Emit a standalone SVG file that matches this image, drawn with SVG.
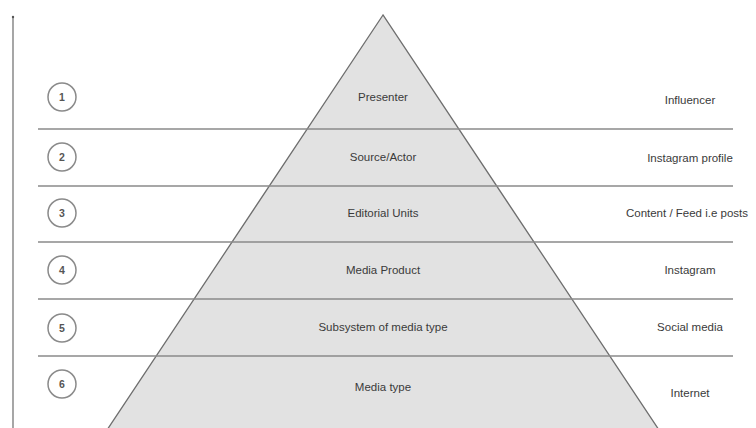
<svg xmlns="http://www.w3.org/2000/svg" width="756" height="428" viewBox="0 0 756 428">
<style>
.sep{stroke:#8a8a8a;stroke-width:1.3}
.tri{fill:#e2e2e2;stroke:#6e6e6e;stroke-width:1.3}
.num circle{fill:#fff;stroke:#8a8a8a;stroke-width:1.5}
text{font-family:"Liberation Sans",Arial,sans-serif;font-size:11.5px;fill:#3a3a3a;text-anchor:middle}
.n{font-size:10.5px;font-weight:bold;fill:#555}
</style>
<rect width="756" height="428" fill="#fff"/>
<g id="axis">
<line x1="13" y1="428" x2="13" y2="17" stroke="#777" stroke-width="1.3"/>
<circle cx="13" cy="17" r="1.2" fill="#555"/>
</g>
<g id="pyramid">
<polygon class="tri" points="383,15 107,430 659,430"/>
</g>
<g id="connectors">
<line class="sep" x1="38" y1="129" x2="733" y2="129"/>
<line class="sep" x1="38" y1="186" x2="733" y2="186"/>
<line class="sep" x1="38" y1="242" x2="733" y2="242"/>
<line class="sep" x1="38" y1="299" x2="733" y2="299"/>
<line class="sep" x1="38" y1="356" x2="733" y2="356"/>
</g>
<g id="level1" class="num"><circle cx="62" cy="97" r="14"/><text class="n" x="62" y="101">1</text><text x="383" y="101">Presenter</text><text x="690" y="104">Influencer</text></g>
<g id="level2" class="num"><circle cx="62" cy="157" r="14"/><text class="n" x="62" y="161">2</text><text x="383" y="161">Source/Actor</text><text x="690" y="162">Instagram profile</text></g>
<g id="level3" class="num"><circle cx="62" cy="213" r="14"/><text class="n" x="62" y="217">3</text><text x="383" y="217">Editorial Units</text><text x="687" y="217">Content / Feed i.e posts</text></g>
<g id="level4" class="num"><circle cx="62" cy="270" r="14"/><text class="n" x="62" y="274">4</text><text x="383" y="274">Media Product</text><text x="690" y="274">Instagram</text></g>
<g id="level5" class="num"><circle cx="62" cy="328" r="14"/><text class="n" x="62" y="332">5</text><text x="383" y="331">Subsystem of media type</text><text x="690" y="331">Social media</text></g>
<g id="level6" class="num"><circle cx="62" cy="384" r="14"/><text class="n" x="62" y="388">6</text><text x="383" y="391">Media type</text><text x="690" y="397">Internet</text></g>
</svg>
